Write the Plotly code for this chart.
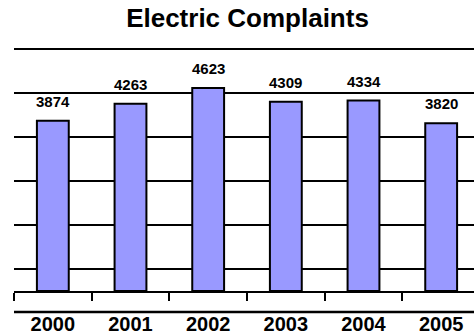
import plotly.graph_objects as go

years = ["2000", "2001", "2002", "2003", "2004", "2005"]
complaints = [3874, 4263, 4623, 4309, 4334, 3820]

FONT = "Liberation Sans, Arial, sans-serif"

fig = go.Figure(go.Bar(
    x=years, y=complaints,
    width=0.41,
    marker=dict(color="#9999FF", line=dict(color="black", width=2)),
    cliponaxis=False,
))

for i, v in enumerate(complaints):
    fig.add_annotation(x=i, y=v, xref="x", yref="y", text=str(v), showarrow=False,
                       yanchor="bottom", yshift=9,
                       font=dict(family=FONT, size=15, color="black", weight="bold"))

fig.update_layout(
    width=474, height=335,
    margin=dict(l=14, r=0, t=45, b=44),
    plot_bgcolor="white", paper_bgcolor="white",
    showlegend=False,
    title=dict(text="Electric Complaints", xref="container", x=247.5/474, xanchor="center",
               yref="container", y=1-18/335, yanchor="middle",
               font=dict(family=FONT, size=26, color="black", weight="bold")),
    xaxis=dict(type="category", range=[-0.5, 5.5 - 6/77.66],
               showline=True, linecolor="black", linewidth=2,
               ticks="outside", ticklen=8, tickwidth=2, tickcolor="black",
               tickson="boundaries", showgrid=False, ticklabelstandoff=14,
               tickfont=dict(family=FONT, size=20, color="black", weight="bold")),
    yaxis=dict(range=[0, 5600], tick0=500, dtick=1000, showgrid=True,
               gridcolor="black", gridwidth=2, showticklabels=False,
               zeroline=False, showline=False, ticks=""),
    shapes=[dict(type="line", xref="paper", yref="paper", x0=0, x1=1,
                 y0=-21/246, y1=-21/246, layer="above",
                 line=dict(color="black", width=2.5))],
)

fig.write_html("out.html")
